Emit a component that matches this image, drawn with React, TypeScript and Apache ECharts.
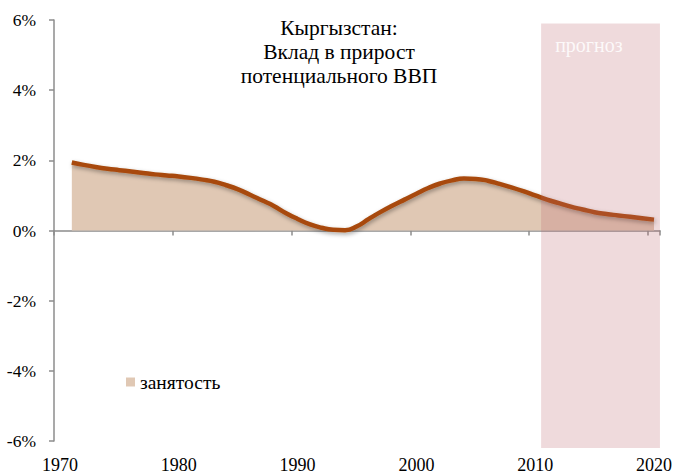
import React, { useEffect, useRef } from "react";
import * as echarts from "echarts";

const years: string[] = [];
for (let y = 1970; y <= 2020; y++) years.push(String(y));

// contribution of employment (%), 1970 has no value
const employment: (number | string)[] = [
  "-",
  1.94, 1.87, 1.81, 1.76, 1.72, 1.68, 1.64, 1.6, 1.57, 1.54,
  1.5, 1.45, 1.39, 1.29, 1.17, 1.02, 0.86, 0.7, 0.5, 0.33,
  0.18, 0.08, 0.02, 0.01, 0.12, 0.33, 0.53, 0.71, 0.88, 1.05,
  1.21, 1.34, 1.43, 1.48, 1.47, 1.42, 1.33, 1.23, 1.12, 1.0,
  0.88, 0.78, 0.68, 0.6, 0.52, 0.47, 0.43, 0.39, 0.35, 0.31,
];

const forecastFrom = "2011";
const forecastTo = "2020";
const yTicks = { min: -6, max: 6, interval: 2 };

const titleText = "Кыргызстан:\nВклад в прирост\nпотенциального ВВП";
const seriesName = "занятость";
const forecastLabel = "прогноз";

const FONT = "Liberation Serif";

export default function App() {
  const ref = useRef<HTMLDivElement>(null);
  useEffect(() => {
    if (!ref.current) return;
    const chart = echarts.init(ref.current, null, { renderer: "svg" });
    const fi0 = years.indexOf(forecastFrom);
    const fi1 = years.indexOf(forecastTo);
    chart.setOption({
      animation: false,
      backgroundColor: "#ffffff",
      textStyle: { fontFamily: FONT },
      grid: { left: 54, right: 15, top: 20, bottom: 33, containLabel: false },
      legend: {
        data: [{ name: seriesName, icon: "rect", itemStyle: { color: "#e0c8b4" } }],
        left: 126,
        top: 372,
        padding: 0,
        itemWidth: 9,
        itemHeight: 9,
        textStyle: { fontFamily: FONT, fontSize: 19.5, color: "#000" },
        selectedMode: false,
      },
      xAxis: [
        {
          type: "category",
          data: years,
          boundaryGap: true,
          axisLine: { onZero: true, lineStyle: { color: "#8c8c8c", width: 1.5 } },
          axisTick: { show: true, interval: 9, length: 5, lineStyle: { color: "#8c8c8c", width: 1.5 } },
          axisLabel: { show: false },
          splitLine: { show: false },
        },
        {
          type: "category",
          data: years,
          boundaryGap: true,
          position: "bottom",
          axisLine: { show: false, onZero: false },
          axisTick: { show: false },
          axisLabel: {
            interval: 9,
            margin: 15,
            fontFamily: FONT,
            fontSize: 18,
            color: "#000",
          },
          splitLine: { show: false },
        },
      ],
      yAxis: {
        type: "value",
        min: yTicks.min,
        max: yTicks.max,
        interval: yTicks.interval,
        axisLine: { show: true, lineStyle: { color: "#8c8c8c", width: 1.5 } },
        axisTick: { show: true, length: 5, lineStyle: { color: "#8c8c8c", width: 1.5 } },
        splitLine: { show: false },
        axisLabel: {
          formatter: (v: number) => `${v}%`,
          margin: 18,
          fontFamily: FONT,
          fontSize: 17.5,
          color: "#000",
        },
      },
      graphic: [
        {
          type: "text",
          x: 339,
          y: 16,
          style: {
            text: titleText,
            align: "center",
            textAlign: "center",
            fontFamily: FONT,
            fontSize: 21.5,
            lineHeight: 24,
            fill: "#000",
          },
        },
      ],
      series: [
        {
          name: seriesName,
          type: "line",
          xAxisIndex: 0,
          data: employment,
          smooth: 0.5,
          showSymbol: false,
          symbol: "none",
          lineStyle: {
            color: "#a84a0c",
            width: 4.5,
            shadowColor: "rgba(0,0,0,0.35)",
            shadowBlur: 4,
            shadowOffsetX: 1,
            shadowOffsetY: 2,
          },
          itemStyle: { color: "#a84a0c" },
          areaStyle: { color: "#e0c8b4", opacity: 1 },
          z: 2,
        },
        {
          type: "custom",
          xAxisIndex: 0,
          z: 5,
          silent: true,
          clip: false,
          data: [[fi0, fi1, 5.9, -6.2]],
          renderItem: (params: any, api: any) => {
            const p0 = api.coord([api.value(0), api.value(2)]);
            const p1 = api.coord([api.value(1), api.value(3)]);
            const bw = api.size([1, 0])[0];
            const x0 = p0[0] - bw / 2;
            const x1 = p1[0] + bw / 2;
            return {
              type: "group",
              children: [
                {
                  type: "rect",
                  shape: { x: x0, y: p0[1], width: x1 - x0, height: p1[1] - p0[1] },
                  style: { fill: "rgba(190,100,108,0.24)" },
                },
                {
                  type: "text",
                  x: x0 + 14,
                  y: p0[1] + 21,
                  style: {
                    text: forecastLabel,
                    fontFamily: FONT,
                    fontSize: 20,
                    fill: "rgba(255,255,255,0.85)",
                    verticalAlign: "middle",
                    align: "left",
                  },
                },
              ],
            };
          },
        },
      ],
    });
    return () => chart.dispose();
  }, []);
  return (
    <div
      ref={ref}
      style={{ position: "fixed", left: 0, top: 0, width: 675, height: 474 }}
    />
  );
}
